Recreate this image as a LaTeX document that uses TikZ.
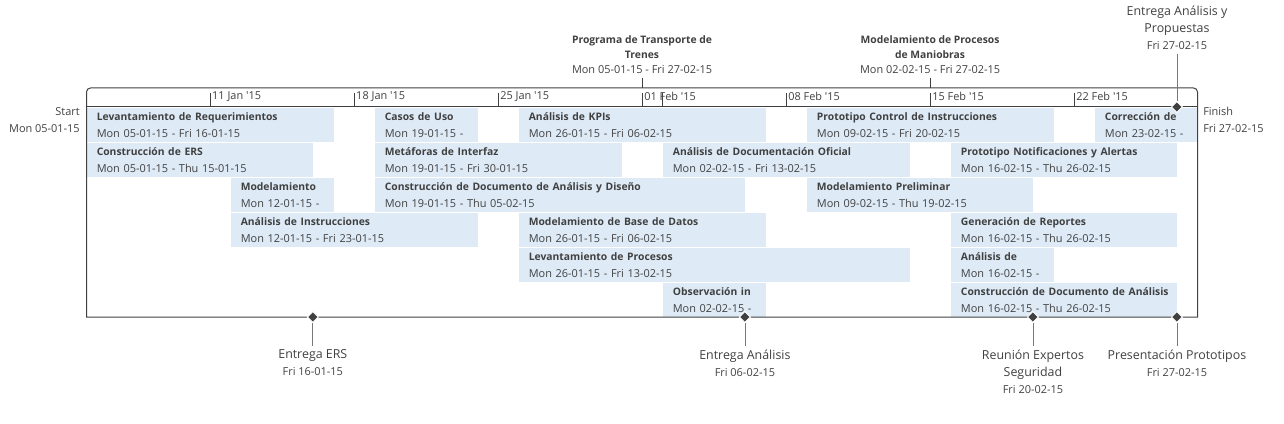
\documentclass[tikz,border=0pt]{standalone}
\usepackage{fontspec}
\setmainfont{Open Sans}
\usetikzlibrary{shapes.geometric}

\definecolor{gtBar}{RGB}{222,235,247}
\definecolor{gtText}{RGB}{64,64,64}
\definecolor{gtLine}{RGB}{64,64,64}
\definecolor{gtLead}{RGB}{120,120,120}

\newcommand\datefont{\fontsize{8.2}{10}\selectfont}
\newcommand\titlefont{\fontsize{7.75}{10}\selectfont\bfseries}
% one bar of the timeline: name, row, first day, day after last, title, dates
\newcommand\gtask[6]{%
  \pgfmathsetmacro\gtW{(20.575*(#4-#3)-20)*0.75}%
  \node[taskbar, text width=\gtW pt] (#1) at ({86.5+20.575*#3},{108+35*(#2-1)})
    {\mbox{\titlefont #5}\\\mbox{#6}};}

\tikzset{
  taskbar/.style={fill=gtBar, anchor=north west, inner xsep=7.5pt, inner ysep=0pt,
    minimum height=25.5pt, align=left},
  mstone/.style={diamond, fill=gtLine, draw=white, line width=0.75pt,
    minimum size=8.5pt, inner sep=0pt},
  mslabel/.style={align=center, inner sep=0pt, outer sep=3pt,
    font=\fontsize{9.3}{12.75}\selectfont},
  callout/.style={align=center, inner sep=0pt, outer sep=3pt,
    font=\fontsize{8.2}{11.25}\selectfont},
  lead/.style={draw=gtLead, line width=0.6pt},
}

\begin{document}
\begin{tikzpicture}[x=0.75pt, y=-0.75pt, font=\fontsize{8.2}{12.75}\selectfont, text=gtText]
\useasboundingbox (0,0) rectangle (1284,424);
%% ── Bars, row 1 ──────────────────────────────────────────────────────────
\gtask{levReq}{1}{0}{12}{Levantamiento de Requerimientos}{Mon 05-01-15 - Fri 16-01-15}
\gtask{casosUso}{1}{14}{19}{Casos de Uso}{Mon 19-01-15 -}
\gtask{kpis}{1}{21}{33}{Análisis de KPIs}{Mon 26-01-15 - Fri 06-02-15}
\gtask{protCtrl}{1}{35}{47}{Prototipo Control de Instrucciones}{Mon 09-02-15 - Fri 20-02-15}
\gtask{correccion}{1}{49}{54}{Corrección de}{Mon 23-02-15 -}
%% ── Bars, row 2 ──────────────────────────────────────────────────────────
\gtask{ers}{2}{0}{11}{Construcción de ERS}{Mon 05-01-15 - Thu 15-01-15}
\gtask{metaforas}{2}{14}{26}{Metáforas de Interfaz}{Mon 19-01-15 - Fri 30-01-15}
\gtask{docOficial}{2}{28}{40}{Análisis de Documentación Oficial}{Mon 02-02-15 - Fri 13-02-15}
\gtask{protNotif}{2}{42}{53}{Prototipo Notificaciones y Alertas}{Mon 16-02-15 - Thu 26-02-15}
%% ── Bars, row 3 ──────────────────────────────────────────────────────────
\gtask{modelam}{3}{7}{12}{Modelamiento}{Mon 12-01-15 -}
\gtask{docAnDis}{3}{14}{32}{Construcción de Documento de Análisis y Diseño}{Mon 19-01-15 - Thu 05-02-15}
\gtask{modPrelim}{3}{35}{46}{Modelamiento Preliminar}{Mon 09-02-15 - Thu 19-02-15}
%% ── Bars, row 4 ──────────────────────────────────────────────────────────
\gtask{anInstr}{4}{7}{19}{Análisis de Instrucciones}{Mon 12-01-15 - Fri 23-01-15}
\gtask{modBD}{4}{21}{33}{Modelamiento de Base de Datos}{Mon 26-01-15 - Fri 06-02-15}
\gtask{reportes}{4}{42}{53}{Generación de Reportes}{Mon 16-02-15 - Thu 26-02-15}
%% ── Bars, rows 5 and 6 ───────────────────────────────────────────────────
\gtask{levProc}{5}{21}{40}{Levantamiento de Procesos}{Mon 26-01-15 - Fri 13-02-15}
\gtask{analisisDe}{5}{42}{47}{Análisis de}{Mon 16-02-15 -}
\gtask{observ}{6}{28}{33}{Observación in}{Mon 02-02-15 -}
\gtask{docAnalisis}{6}{42}{53}{Construcción de Documento de Análisis}{Mon 16-02-15 - Thu 26-02-15}
%% ── Frame and scale ──────────────────────────────────────────────────────
\draw[gtLine, line width=0.75pt] (86.5,317) -- (86.5,100) [rounded corners=3pt]
    -- (86.5,88) -- (1197.5,88) -- (1197.5,100) [sharp corners] -- (1197.5,317) -- cycle;
\draw[gtLine, line width=0.75pt] (86.5,107) -- (1197.5,107);
\foreach \d/\lbl in {6/11 Jan,13/18 Jan,20/25 Jan,27/01 Feb,34/08 Feb,41/15 Feb,48/22 Feb}{
  \draw[gtLine, line width=0.6pt] ({86.5+20.575*\d},93) -- ({86.5+20.575*\d},107);
  \node[anchor=west, inner sep=0pt] (tk\d) at ({88.5+20.575*\d},96.5) {\lbl\ \textquotesingle15};
}
\draw[gtLine, line width=0.6pt] ({86.5+20.575*28},93) -- ({86.5+20.575*28},107);
%% ── Start and finish ─────────────────────────────────────────────────────
\node[anchor=north east, align=right, inner sep=0pt] (startLbl) at (80,107) {Start\\Mon 05-01-15};
\node[anchor=north west, align=left, inner sep=0pt] (finishLbl) at (1203,107) {Finish\\Fri 27-02-15};
%% ── Summary callouts ─────────────────────────────────────────────────────
\coordinate (progPin) at ({86.5+20.575*27},88);
\coordinate (procPin) at ({86.5+20.575*41},88);
\node[callout, anchor=south] (progCall) at ({86.5+20.575*27},78)
    {\titlefont Programa de Transporte de\\\titlefont Trenes\\Mon 05-01-15 - Fri 27-02-15};
\node[callout, anchor=south] (procCall) at ({86.5+20.575*41},78)
    {\titlefont Modelamiento de Procesos\\\titlefont de Maniobras\\Mon 02-02-15 - Fri 27-02-15};
\draw[gtLine, line width=0.6pt] (progCall) -- (progPin);
\draw[gtLine, line width=0.6pt] (procCall) -- (procPin);
%% ── Milestones ───────────────────────────────────────────────────────────
\node[mstone] (msProp) at ({86.5+20.575*53},107) {};
\node[mstone] (msERS) at ({86.5+20.575*11},317) {};
\node[mstone] (msAnal) at ({86.5+20.575*32},317) {};
\node[mstone] (msExp) at ({86.5+20.575*46},317) {};
\node[mstone] (msPres) at ({86.5+20.575*53},317) {};
\node[mslabel, anchor=south] (msPropLbl) at ({86.5+20.575*53},54)
    {Entrega Análisis y\\Propuestas\\{\datefont Fri 27-02-15}};
\node[mslabel, anchor=north] (msERSLbl) at ({86.5+20.575*11},346)
    {Entrega ERS\\{\datefont Fri 16-01-15}};
\node[mslabel, anchor=north] (msAnalLbl) at ({86.5+20.575*32},346)
    {Entrega Análisis\\{\datefont Fri 06-02-15}};
\node[mslabel, anchor=north] (msExpLbl) at ({86.5+20.575*46},346)
    {Reunión Expertos\\Seguridad\\{\datefont Fri 20-02-15}};
\node[mslabel, anchor=north] (msPresLbl) at ({86.5+20.575*53},346)
    {Presentación Prototipos\\{\datefont Fri 27-02-15}};
\draw[lead] (msPropLbl) -- (msProp);
\draw[lead] (msERS) -- (msERSLbl);
\draw[lead] (msAnal) -- (msAnalLbl);
\draw[lead] (msExp) -- (msExpLbl);
\draw[lead] (msPres) -- (msPresLbl);
\end{tikzpicture}
\end{document}
